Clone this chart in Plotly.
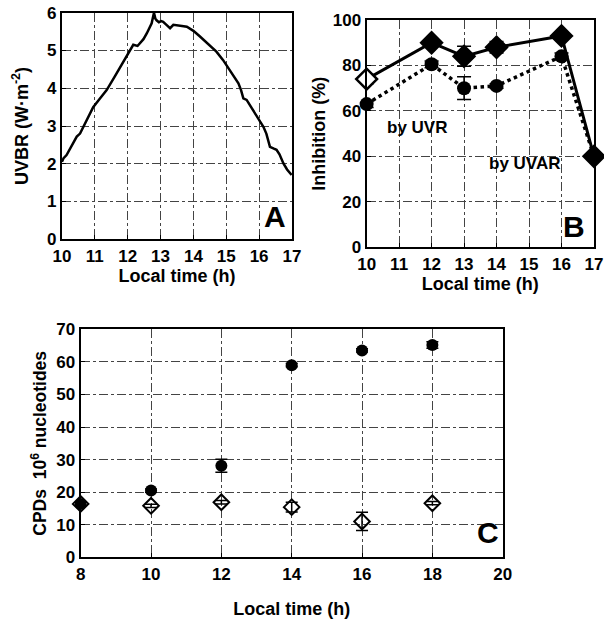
import plotly.graph_objects as go

# Panel A: UVBR over the day
a_time = [10.0, 10.05, 10.14, 10.3, 10.45, 10.55, 10.75, 10.95, 11.15, 11.36, 11.6, 11.8, 11.97, 12.1, 12.17, 12.3, 12.37, 12.48, 12.58, 12.73, 12.8, 12.84, 12.88, 12.95, 13.02, 13.08, 13.18, 13.29, 13.39, 13.5, 13.65, 13.8, 14.0, 14.2, 14.45, 14.7, 14.9, 15.11, 15.25, 15.37, 15.45, 15.52, 15.62, 15.75, 15.92, 16.05, 16.13, 16.22, 16.33, 16.45, 16.53, 16.62, 16.74, 16.85, 16.99]
a_uvbr = [2.05, 2.15, 2.23, 2.5, 2.72, 2.8, 3.15, 3.5, 3.72, 3.95, 4.3, 4.6, 4.88, 5.05, 5.15, 5.12, 5.2, 5.3, 5.45, 5.72, 6.0, 5.85, 5.8, 5.75, 5.78, 5.76, 5.68, 5.59, 5.68, 5.66, 5.65, 5.63, 5.52, 5.37, 5.18, 4.97, 4.75, 4.48, 4.3, 4.13, 3.95, 3.73, 3.69, 3.5, 3.25, 3.08, 2.98, 2.8, 2.45, 2.4, 2.37, 2.25, 2.01, 1.85, 1.7]

# Panel B: inhibition
b_time = [10, 12, 13, 14, 16, 17]
b_uvr = [74, 90, 84, 88, 93, 40]
b_uvr_err = [2, 1.5, 4.4, 2.5, 1, 1]
b_uvar = [63, 80.5, 70, 71, 84, 40]
b_uvar_err = [1.5, 1.5, 5, 1, 1.5, 1]

# Panel C: CPDs
c_time = [8, 10, 12, 14, 16, 18]
c_filled = [16.4, 20.5, 28.1, 59, 63.5, 65.2]
c_filled_err = [0.5, 0.5, 2, 0.5, 0.5, 1]
c_open = [16.4, 15.8, 16.9, 15.4, 11, 16.6]
c_open_err = [0.5, 0.5, 0.5, 1.5, 2.8, 0.5]

FONT = "Liberation Sans"
tickfont = dict(family=FONT, size=17, color="black", weight=700)
titlefont = dict(family=FONT, size=18, color="black", weight=700)

fig = go.Figure()

fig.add_trace(go.Scatter(x=a_time, y=a_uvbr, mode="lines",
                         line=dict(color="black", width=2.5),
                         xaxis="x", yaxis="y", showlegend=False))

fig.add_trace(go.Scatter(x=b_time, y=b_uvar, mode="lines+markers", cliponaxis=False,
                         line=dict(color="black", width=3.5, dash="dot"),
                         marker=dict(symbol="circle", size=14, color="black"),
                         error_y=dict(type="data", array=b_uvar_err, color="black", thickness=1.5, width=7),
                         xaxis="x2", yaxis="y2", showlegend=False))
fig.add_trace(go.Scatter(x=b_time, y=b_uvr, mode="lines+markers", cliponaxis=False,
                         line=dict(color="black", width=3),
                         marker=dict(symbol="diamond", size=16,
                                     color=["white", "black", "black", "black", "black", "black"],
                                     line=dict(color="black", width=2.5)),
                         error_y=dict(type="data", array=b_uvr_err, color="black", thickness=1.5, width=7),
                         xaxis="x2", yaxis="y2", showlegend=False))

fig.add_trace(go.Scatter(x=c_time, y=c_filled, mode="markers", cliponaxis=False,
                         marker=dict(symbol="circle", size=12, color="black"),
                         error_y=dict(type="data", array=c_filled_err, color="black", thickness=1.5, width=6),
                         xaxis="x3", yaxis="y3", showlegend=False))
fig.add_trace(go.Scatter(x=c_time, y=c_open, mode="markers", cliponaxis=False,
                         marker=dict(symbol="diamond-open", size=12, color="black",
                                     line=dict(color="black", width=2)),
                         error_y=dict(type="data", array=c_open_err, color="black", thickness=1.5, width=6),
                         xaxis="x3", yaxis="y3", showlegend=False))

def ax(**kw):
    base = dict(showline=True, linecolor="black", linewidth=2, mirror=True,
                ticks="inside", ticklen=4, tickcolor="black",
                showgrid=True, gridcolor="#444", gridwidth=1, griddash="dashdot",
                zeroline=False, tickfont=tickfont, automargin=False)
    base.update(kw)
    return base

fig.update_layout(
    width=604, height=621,
    margin=dict(l=0, r=0, t=0, b=0, autoexpand=False),
    paper_bgcolor="white", plot_bgcolor="white",
    xaxis=ax(domain=[0.1026, 0.4834], range=[10, 17], dtick=1, anchor="y",
             title=dict(text="Local time (h)", font=titlefont, standoff=5)),
    yaxis=ax(domain=[0.6147, 0.9795], range=[0, 6], dtick=1, anchor="x",
             title=dict(text="UVBR (W·m<sup>-2</sup>)", font=titlefont, standoff=14)),
    xaxis2=ax(domain=[0.607, 0.9834], range=[10, 17], dtick=1, anchor="y2",
              title=dict(text="Local time (h)", font=titlefont, standoff=5)),
    yaxis2=ax(domain=[0.6018, 0.9678], range=[0, 100], dtick=20, anchor="x2",
              title=dict(text="Inhibition (%)", font=titlefont, standoff=3)),
    xaxis3=ax(domain=[0.1336, 0.8323], range=[8, 20], dtick=2, anchor="y3",
              title=dict(text="Local time (h)", font=titlefont, standoff=20)),
    yaxis3=ax(domain=[0.1026, 0.4697], range=[0, 70], dtick=10, anchor="x3",
              title=dict(text="CPDs  10<sup>6</sup> nucleotides", font=dict(family=FONT, size=17.5, color="black", weight=700), standoff=5)),
    annotations=[
        dict(text="A", x=16.48, y=0.6, xref="x", yref="y", showarrow=False,
             font=dict(family=FONT, size=30, color="black", weight=700)),
        dict(text="B", x=16.4, y=9, xref="x2", yref="y2", showarrow=False,
             font=dict(family=FONT, size=30, color="black", weight=700)),
        dict(text="C", x=19.58, y=7.5, xref="x3", yref="y3", showarrow=False,
             font=dict(family=FONT, size=30, color="black", weight=700)),
        dict(text="by UVR", x=11.54, y=52.5, xref="x2", yref="y2", showarrow=False,
             font=dict(family=FONT, size=17, color="black", weight=700)),
        dict(text="by UVAR", x=14.85, y=37, xref="x2", yref="y2", showarrow=False,
             font=dict(family=FONT, size=17, color="black", weight=700)),
    ],
)

fig.write_html("out.html", config={"displayModeBar": False},
               post_script="document.body.style.margin='0';document.body.style.overflow='hidden';")
